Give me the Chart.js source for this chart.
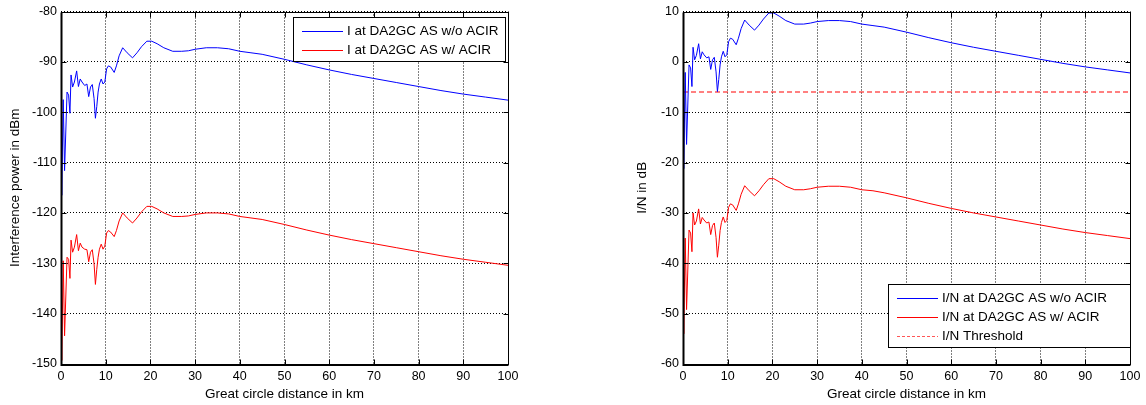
<!DOCTYPE html>
<html>
<head>
<meta charset="utf-8">
<script src="https://cdn.jsdelivr.net/npm/chart.js@4/dist/chart.umd.min.js"></script>
<style>
  html, body { margin: 0; padding: 0; background: #fff; }
  #wrap { position: relative; width: 1146px; height: 405px; }
  canvas { position: absolute; top: 0; }
</style>
</head>
<body>
<div id="wrap">
  <canvas id="powerChart" width="573" height="405" style="left:0"></canvas>
  <canvas id="inrChart" width="573" height="405" style="left:573px"></canvas>
</div>
<script>
// great circle distance (km) shared by all four curves
const distanceKm = [
  0, 0.15, 0.5, 0.8, 1.35, 1.7, 2.0, 2.25, 2.6, 3.0, 3.5, 3.9, 4.3, 4.7, 5.3, 5.8,
  6.2, 6.6, 7.0, 7.4, 7.7, 8.0, 8.3, 8.6, 9.0, 9.4, 9.8, 10.2, 10.6, 11.1, 11.9, 12.4,
  13.0, 13.8, 14.8, 16.0, 17.0, 18.0, 19.2, 20.3, 21.5, 23.0, 25.0, 27.0, 28.5, 30.0,
  32.5, 35.0, 37.5, 40.0, 42.5, 45.0, 50, 55, 60, 65, 70, 75, 80, 85, 90, 95, 100
];

// interference power in dBm
const powerNoAcir = [
  -108, -116.5, -97.5, -111.6, -96, -96.6, -100.2, -92.6, -95, -94, -91.8, -94.9, -93.4, -94, -94.7, -94.4,
  -96.9, -95, -94.5, -97.3, -101.2, -98.9, -96, -94.4, -93.4, -94.4, -94, -91.4, -90.8, -91, -92.1, -90.8,
  -88.8, -87.2, -88.2, -89.2, -88.2, -87.0, -85.9, -85.9, -86.4, -87.2, -87.9, -87.9, -87.8, -87.5,
  -87.2, -87.2, -87.4, -87.9, -88.2, -88.5, -89.5, -90.6, -91.6, -92.5, -93.3, -94.1, -94.9, -95.7, -96.4, -97.0, -97.6
];
const powerWithAcir = [
  -140.5, -149.3, -129.5, -144.4, -128.8, -129.2, -133.0, -125.4, -127.8, -126.8, -124.3, -127.5, -126.0, -126.8, -127.2, -127.3,
  -129.7, -127.8, -127.3, -130.1, -134.2, -131.2, -128.8, -127.2, -126.2, -127.2, -126.6, -124.0, -123.5, -123.8, -124.7, -123.5,
  -121.6, -120.0, -121.0, -122.0, -121.0, -119.8, -118.7, -118.7, -119.2, -120.0, -120.7, -120.7, -120.6, -120.3,
  -120.0, -120.0, -120.2, -120.7, -121.0, -121.3, -122.3, -123.4, -124.4, -125.3, -126.1, -126.9, -127.7, -128.5, -129.2, -129.8, -130.4
];

// interference to noise ratio in dB
const inrNoAcir = [
  -12.6, -21.2, -2.1, -16.4, -0.6, -1.2, -4.9, 2.9, 0.4, 1.3, 3.6, 0.6, 2.0, 1.4, 0.8, 1.0,
  -1.5, 0.4, 0.9, -2.0, -5.9, -3.5, -0.6, 1.0, 2.1, 1.0, 1.4, 4.0, 4.7, 4.5, 3.4, 4.7,
  6.6, 8.3, 7.3, 6.3, 7.3, 8.5, 9.7, 9.7, 9.1, 8.2, 7.5, 7.5, 7.7, 8.0,
  8.2, 8.2, 8.0, 7.5, 7.2, 6.9, 5.9, 4.8, 3.8, 2.9, 2.1, 1.3, 0.5, -0.3, -1.0, -1.6, -2.2
];
const inrWithAcir = [
  -45.4, -54.0, -35.0, -49.2, -33.4, -34.0, -37.7, -30.0, -32.4, -31.6, -29.2, -32.2, -30.9, -31.4, -32.0, -31.8,
  -34.3, -32.5, -32.0, -34.9, -38.8, -36.4, -33.5, -31.9, -30.8, -31.9, -31.5, -28.9, -28.2, -28.4, -29.5, -28.2,
  -26.3, -24.6, -25.6, -26.6, -25.6, -24.4, -23.2, -23.2, -23.8, -24.7, -25.4, -25.4, -25.2, -24.9,
  -24.7, -24.7, -24.9, -25.4, -25.6, -26.0, -27.0, -28.1, -29.1, -30.0, -30.8, -31.6, -32.4, -33.2, -33.9, -34.5, -35.1
];
const inrThresholdDb = -6;

// axis ticks
const distanceTicks = [0, 10, 20, 30, 40, 50, 60, 70, 80, 90, 100];
const powerTicks = [-150, -140, -130, -120, -110, -100, -90, -80];
const inrTicks = [-60, -50, -40, -30, -20, -10, 0, 10];

const FONT = "'Liberation Sans', Arial, sans-serif";
Chart.defaults.font.family = FONT;
Chart.defaults.font.size = 12.5;
Chart.defaults.color = '#000';

const toPoints = (xs, ys) => xs.map((x, i) => ({ x: x, y: ys[i] }));

// MATLAB-like box: full frame plus inward tick marks
const boxPlugin = {
  id: 'box',
  afterDraw(chart) {
    const { ctx, chartArea: a, scales: { x, y } } = chart;
    const L = Math.round(a.left) + 0.5, R = Math.round(a.right) + 0.5;
    const T = Math.round(a.top) + 0.5, B = Math.round(a.bottom) + 0.5;
    ctx.save();
    ctx.strokeStyle = '#000';
    ctx.lineWidth = 1;
    ctx.beginPath();
    x.ticks.forEach(t => {
      const px = Math.round(x.getPixelForValue(t.value)) + 0.5;
      ctx.moveTo(px, B); ctx.lineTo(px, B - 5);
      ctx.moveTo(px, T); ctx.lineTo(px, T + 5);
    });
    y.ticks.forEach(t => {
      const py = Math.round(y.getPixelForValue(t.value)) + 0.5;
      ctx.moveTo(L, py); ctx.lineTo(L + 5, py);
      ctx.moveTo(R, py); ctx.lineTo(R - 5, py);
    });
    ctx.stroke();
    ctx.strokeRect(L, T, R - L, B - T);
    ctx.lineWidth = 2;
    ctx.beginPath();
    ctx.moveTo(L, T); ctx.lineTo(L, B + 0.5); ctx.lineTo(R, B + 0.5);
    ctx.stroke();
    ctx.restore();
  }
};

// legend box drawn inside the plot
const boxLegend = {
  id: 'boxLegend',
  afterDraw(chart, args, o) {
    const ctx = chart.ctx;
    ctx.save();
    ctx.fillStyle = '#fff';
    ctx.fillRect(o.x, o.y, o.w, o.h);
    ctx.strokeStyle = '#000';
    ctx.lineWidth = 1;
    ctx.strokeRect(o.x + 0.5, o.y + 0.5, o.w, o.h);
    ctx.font = o.fontSize + 'px ' + FONT;
    ctx.textBaseline = 'middle';
    chart.data.datasets.forEach((ds, i) => {
      const ry = Math.round(o.y + o.firstRow + i * o.rowGap) + 0.5;
      ctx.strokeStyle = ds.borderColor;
      ctx.lineWidth = 1;
      ctx.setLineDash(ds.borderDash ? [3, 2] : []);
      ctx.beginPath();
      ctx.moveTo(o.x + 9, ry);
      ctx.lineTo(o.x + 50, ry);
      ctx.stroke();
      ctx.setLineDash([]);
      ctx.fillStyle = '#000';
      ctx.fillText(ds.label, o.x + 54, ry);
    });
    ctx.restore();
  }
};

function makeChart(id, datasets, yTicks, yTitle, layout, legend) {
  return new Chart(document.getElementById(id), {
    type: 'line',
    data: { datasets: datasets },
    plugins: [boxPlugin, boxLegend],
    options: {
      responsive: false,
      animation: false,
      devicePixelRatio: 1,
      layout: { padding: { left: layout.padLeft, right: layout.padRight, top: 10, bottom: 0 } },
      elements: { point: { radius: 0 }, line: { borderWidth: 1, tension: 0 } },
      plugins: {
        legend: { display: false },
        tooltip: { enabled: false },
        boxLegend: legend
      },
      scales: {
        x: {
          type: 'linear',
          min: 0, max: 100,
          afterBuildTicks: s => { s.ticks = distanceTicks.map(v => ({ value: v })); },
          afterFit: s => { s.height = 41; },
          grid: { color: '#000', lineWidth: 1, drawTicks: false },
          border: { display: false, dash: [1, 2] },
          ticks: { padding: 5, maxRotation: 0 },
          title: { display: true, text: 'Great circle distance in km', padding: { top: 0, bottom: 3 }, font: { size: 13.5 } }
        },
        y: {
          type: 'linear',
          min: yTicks[0], max: yTicks[yTicks.length - 1],
          afterBuildTicks: s => { s.ticks = yTicks.map(v => ({ value: v })); },
          afterFit: s => { s.width = layout.yWidth; },
          grid: { color: '#000', lineWidth: 1, drawTicks: false },
          border: { display: false, dash: [1, 2] },
          ticks: { padding: 4 },
          title: { display: true, text: yTitle, padding: { top: layout.titlePad, bottom: 0 }, font: { size: 13.5 } }
        }
      }
    }
  });
}

makeChart('powerChart', [
  { label: 'I at DA2GC AS w/o ACIR', data: toPoints(distanceKm, powerNoAcir), borderColor: '#0000ff' },
  { label: 'I at DA2GC AS w/ ACIR', data: toPoints(distanceKm, powerWithAcir), borderColor: '#ff0000' }
], powerTicks, 'Interference power in dBm',
  { padLeft: 0, padRight: 65, yWidth: 61, titlePad: 7 },
  { x: 293, y: 17, w: 212, h: 44, firstRow: 14, rowGap: 19.3, fontSize: 13.5 });

makeChart('inrChart', [
  { label: 'I/N at DA2GC AS w/o ACIR', data: toPoints(distanceKm, inrNoAcir), borderColor: '#0000ff' },
  { label: 'I/N at DA2GC AS w/ ACIR', data: toPoints(distanceKm, inrWithAcir), borderColor: '#ff0000' },
  { label: 'I/N Threshold', data: toPoints([0, 100], [inrThresholdDb, inrThresholdDb]),
    borderColor: 'rgba(255,30,30,0.75)', borderDash: [5, 3], borderWidth: 1.5 }
], inrTicks, 'I/N in dB',
  { padLeft: 55, padRight: 16, yWidth: 55, titlePad: 6 },
  { x: 315, y: 284, w: 242, h: 63, firstRow: 14, rowGap: 18.8, fontSize: 13.5 });
</script>
</body>
</html>
